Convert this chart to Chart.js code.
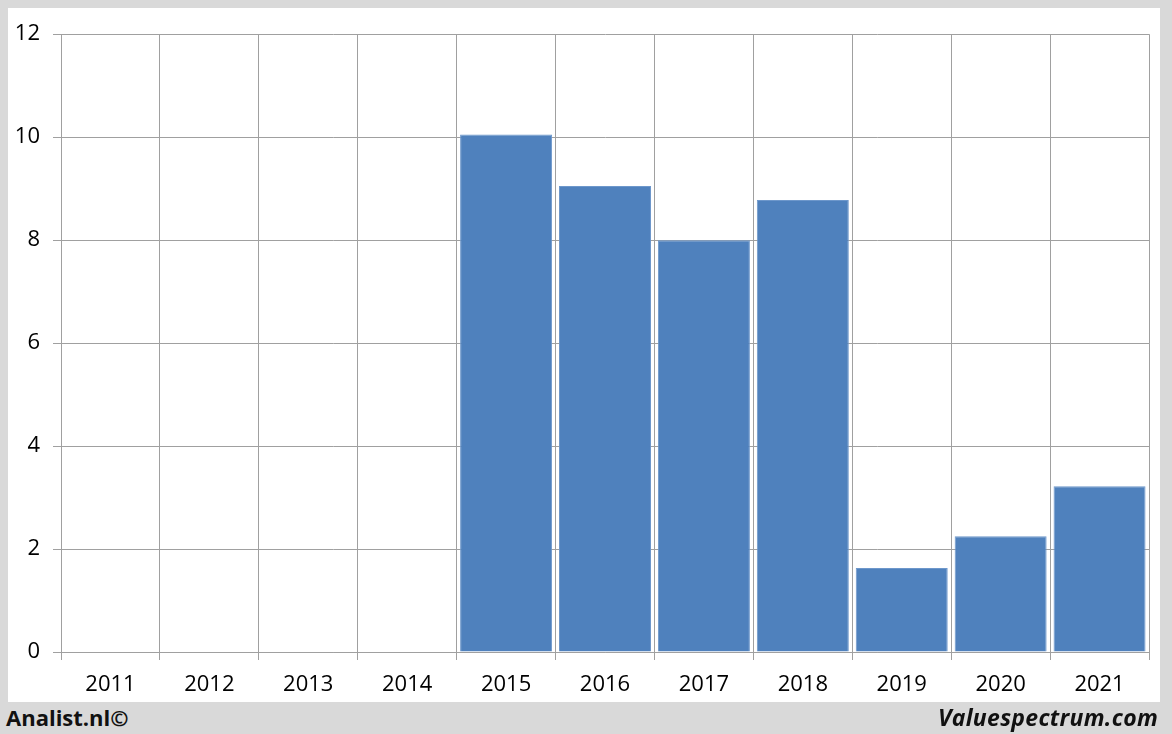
<!DOCTYPE html>
<html>
<head>
<meta charset="utf-8">
<script src="https://cdn.jsdelivr.net/npm/chart.js@4"></script>
<style>
    html, body { margin: 0; padding: 0; }
    body { width: 1172px; height: 734px; background: #d9d9d9; position: relative; overflow: hidden; font-family: 'Open Sans', sans-serif; }
    #panel { position: absolute; left: 8px; top: 8px; width: 1152px; height: 694px; background: #ffffff; }
    .foot { position: absolute; top: 702px; font-size: 22px; font-weight: bold; color: #111; line-height: 30px; }
    #left { left: 6px; }
    #right { right: 14px; font-style: italic; font-size: 23px; letter-spacing: 0.3px; }
</style>
</head>
<body>
<div id="panel"><canvas id="barChart" width="1152" height="694"></canvas></div>
<div class="foot" id="left">Analist.nl©</div>
<div class="foot" id="right">Valuespectrum.com</div>
<script>
const years = ['2011', '2012', '2013', '2014', '2015', '2016', '2017', '2018', '2019', '2020', '2021'];
const values = [null, null, null, null, 10.05, 9.05, 8.0, 8.78, 1.63, 2.25, 3.22];

document.addEventListener('DOMContentLoaded', function() {
    const ctx = document.getElementById('barChart').getContext('2d');
    const gridColor = '#a0a0a0';

    new Chart(ctx, {
        type: 'bar',
        data: {
            labels: years,
            datasets: [{
                data: values,
                backgroundColor: '#4f81bd',
                borderColor: '#6d97cb',
                borderWidth: 1,
                barPercentage: 0.93,
                categoryPercentage: 1.0
            }]
        },
        options: {
            responsive: false,
            animation: false,
            layout: { padding: { top: 26, right: 11, bottom: 0, left: 0 } },
            plugins: { legend: { display: false }, tooltip: { enabled: false } },
            scales: {
                x: {
                    offset: true,
                    grid: { offset: true, color: gridColor, lineWidth: 1, tickLength: 8 },
                    border: { color: gridColor },
                    ticks: { color: '#000', padding: 12, font: { family: 'Open Sans', size: 22 } },
                    afterFit: function(axis) { axis.height = 50; }
                },
                y: {
                    min: 0,
                    max: 12,
                    ticks: { stepSize: 2, color: '#000', padding: 13, font: { family: 'Open Sans', size: 22 } },
                    grid: { color: gridColor, lineWidth: 1, tickLength: 8 },
                    border: { color: gridColor },
                    afterFit: function(axis) { axis.width = 53; }
                }
            }
        }
    });
});
</script>
</body>
</html>
